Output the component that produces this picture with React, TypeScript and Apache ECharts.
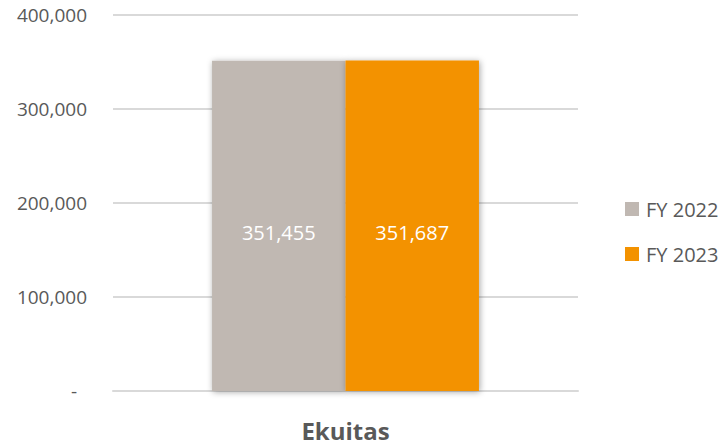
import React, { useEffect, useRef } from "react";
import * as echarts from "echarts";

const categories = ["Ekuitas"];
const fy2022 = [351455];
const fy2023 = [351687];
const seriesNames = ["FY 2022", "FY 2023"];

const FONT = "'Open Sans', 'Noto Sans', sans-serif";

export default function App() {
  const ref = useRef<HTMLDivElement>(null);
  useEffect(() => {
    if (!ref.current) return;
    const chart = echarts.init(ref.current, null, { renderer: "svg" });
    const fmt = (v: number) => v.toLocaleString("en-US");
    const shadow = {
      shadowBlur: 6,
      shadowColor: "rgba(0,0,0,0.35)",
      shadowOffsetX: 1,
      shadowOffsetY: 1,
    };
    const label = {
      show: true,
      position: "inside",
      offset: [0, 7],
      color: "#FFFFFF",
      fontSize: 20,
      fontFamily: FONT,
      formatter: (p: any) => fmt(p.value),
    };
    chart.setOption({
      animation: false,
      textStyle: { fontFamily: FONT },
      grid: { left: 113, right: 148, top: 15, bottom: 54, containLabel: false },
      legend: {
        orient: "vertical",
        left: 620,
        top: 194,
        itemWidth: 14,
        itemHeight: 14,
        itemGap: 25,
        icon: "rect",
        textStyle: { fontSize: 20, color: "#595959", fontFamily: FONT, padding: [0, 0, 0, 2] },
        data: seriesNames,
      },
      xAxis: {
        type: "category",
        data: categories,
        axisTick: { show: false },
        axisLine: { show: true, lineStyle: { color: "#D9D9D9", width: 2 } },
        axisLabel: {
          fontSize: 24,
          fontWeight: "bold",
          color: "#595959",
          margin: 27,
          fontFamily: FONT,
        },
      },
      yAxis: {
        type: "value",
        min: 0,
        max: 400000,
        interval: 100000,
        axisLine: { show: false },
        axisTick: { show: false },
        splitLine: { lineStyle: { color: "#D9D9D9", width: 2 } },
        axisLabel: {
          fontSize: 19,
          color: "#595959",
          margin: 26,
          fontFamily: FONT,
          formatter: (v: number) => (v === 0 ? "-  " : fmt(v)),
        },
      },
      series: [
        {
          name: seriesNames[0],
          type: "bar",
          data: fy2022,
          barGap: "0%",
          barCategoryGap: "42.6%",
          itemStyle: { color: "#C0B8B2", ...shadow },
          label,
        },
        {
          name: seriesNames[1],
          type: "bar",
          data: fy2023,
          barGap: "0%",
          barCategoryGap: "42.6%",
          itemStyle: { color: "#F39200", ...shadow },
          label,
        },
      ],
    });
    return () => chart.dispose();
  }, []);
  return <div ref={ref} style={{ width: 726, height: 445, position: "absolute", left: 0, top: 0 }} />;
}
